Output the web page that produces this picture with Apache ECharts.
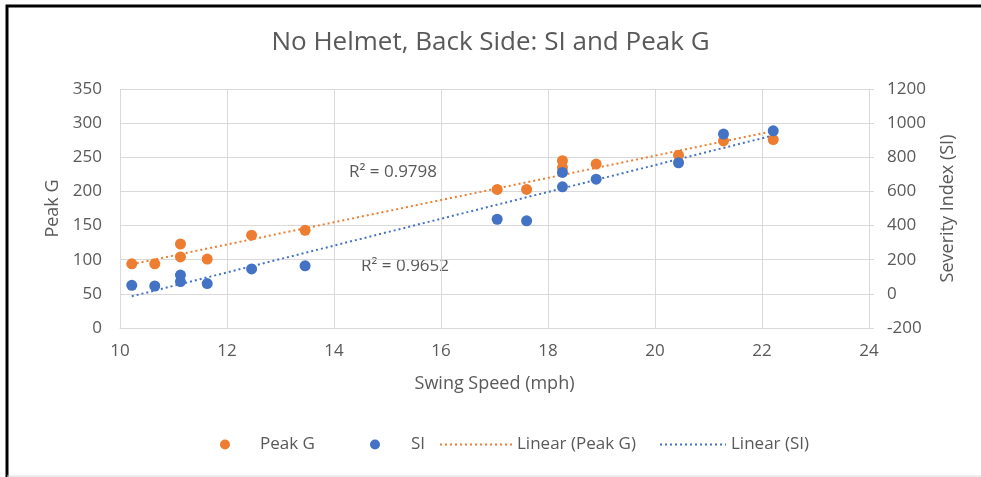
<!DOCTYPE html>
<html>
<head>
<meta charset="utf-8">
<script src="https://cdn.jsdelivr.net/npm/echarts@6/dist/echarts.min.js"></script>
<style>
html,body{margin:0;padding:0;background:#fff;}
#chart{width:981px;height:477px;}
</style>
</head>
<body>
<div id="chart"></div>
<script>
// ---- data ----
var swingSpeed = [10.22, 10.65, 11.13, 11.13, 11.63, 12.46, 13.46, 17.05, 17.6, 18.27, 18.27, 18.9, 20.44, 21.28, 22.21];
var peakG      = [94, 94, 123, 104, 101, 136, 143, 203, 203, 245, 235, 240, 253, 274, 276];
var severityIndex = [50, 46, 110, 72, 60, 146, 164, 437, 428, 711, 627, 672, 768, 936, 955];
var xTicks = [10, 12, 14, 16, 18, 20, 22, 24];
var leftTicks = [0, 50, 100, 150, 200, 250, 300, 350];
var rightTicks = [-200, 0, 200, 400, 600, 800, 1000, 1200];
var rSquaredLabels = ['R\u00b2 = 0.9798', 'R\u00b2 = 0.9652'];

var ORANGE = '#ED7D31', BLUE = '#4472C4', TXT = '#595959', GRID = '#D9D9D9';
var FONT = '"Open Sans", "DejaVu Sans", sans-serif';

function pairs(xs, ys){ return xs.map(function(x,i){ return [x, ys[i]]; }); }
function linFit(xs, ys){
  var n = xs.length, mx = 0, my = 0;
  for (var i=0;i<n;i++){ mx += xs[i]; my += ys[i]; }
  mx/=n; my/=n;
  var sxy=0, sxx=0;
  for (var j=0;j<n;j++){ sxy += (xs[j]-mx)*(ys[j]-my); sxx += (xs[j]-mx)*(xs[j]-mx); }
  var b = sxy/sxx, a = my - b*mx;
  var x0 = Math.min.apply(null, xs), x1 = Math.max.apply(null, xs);
  return [[x0, a+b*x0], [x1, a+b*x1]];
}

var chart = echarts.init(document.getElementById('chart'));
var axisLabelStyle = {color: TXT, fontSize: 17, fontFamily: FONT};
var nameStyle = {color: TXT, fontSize: 18, fontFamily: FONT};

function legendAt(left, name, w, hideSymbol){
  var l = {
    left: left, top: 431, itemWidth: w, itemHeight: 10, itemGap: 0,
    data: [name], textStyle: {color: TXT, fontSize: 17, fontFamily: FONT},
    selectedMode: false
  };
  if (hideSymbol) l.itemStyle = {opacity: 0};
  return l;
}

chart.setOption({
  animation: false,
  backgroundColor: '#fff',
  title: {
    text: 'No Helmet, Back Side: SI and Peak G',
    left: 'center', top: 25,
    textStyle: {color: TXT, fontSize: 26, fontWeight: 'normal', fontFamily: FONT}
  },
  grid: {left: 120, top: 89, width: 749, height: 239, containLabel: false},
  legend: [
    legendAt(215, 'Peak G', 60),
    legendAt(365, 'SI', 62),
    legendAt(434, 'Linear (Peak G)', 72, true),
    legendAt(654, 'Linear (SI)', 66, true)
  ],
  xAxis: {
    type: 'value', min: xTicks[0], max: xTicks[xTicks.length-1], interval: 2,
    name: 'Swing Speed (mph)', nameLocation: 'middle', nameGap: 47,
    nameTextStyle: nameStyle,
    axisLine: {show: true, lineStyle: {color: GRID, width: 1}},
    axisTick: {show: false},
    axisLabel: Object.assign({margin: 15}, axisLabelStyle),
    splitLine: {show: true, lineStyle: {color: GRID, width: 1}}
  },
  yAxis: [
    {
      type: 'value', min: leftTicks[0], max: leftTicks[leftTicks.length-1], interval: 50,
      name: 'Peak G', nameLocation: 'middle', nameGap: 57,
      nameTextStyle: nameStyle,
      axisLine: {show: false}, axisTick: {show: false},
      axisLabel: Object.assign({margin: 18}, axisLabelStyle),
      splitLine: {show: true, lineStyle: {color: GRID, width: 1}}
    },
    {
      type: 'value', min: rightTicks[0], max: rightTicks[rightTicks.length-1], interval: 200,
      position: 'right',
      name: 'Severity Index (SI)', nameLocation: 'middle', nameGap: 70, nameRotate: 90,
      nameTextStyle: nameStyle,
      axisLine: {show: true, lineStyle: {color: GRID, width: 1}},
      axisTick: {show: true, length: 5, lineStyle: {color: GRID}},
      axisLabel: Object.assign({margin: 18, formatter: function(v){ return String(v); }}, axisLabelStyle),
      splitLine: {show: false}
    }
  ],
  series: [
    {
      name: 'Linear (Peak G)', type: 'line', yAxisIndex: 0, data: linFit(swingSpeed, peakG),
      symbol: 'none', lineStyle: {color: ORANGE, width: 2, type: [2, 3]}, itemStyle: {color: ORANGE}, z: 1
    },
    {
      name: 'Linear (SI)', type: 'line', yAxisIndex: 1, data: linFit(swingSpeed, severityIndex),
      symbol: 'none', lineStyle: {color: BLUE, width: 2, type: [2, 3]}, itemStyle: {color: BLUE}, z: 1
    },
    {
      name: 'Peak G', type: 'scatter', yAxisIndex: 0, data: pairs(swingSpeed, peakG),
      symbol: 'circle', symbolSize: 11, itemStyle: {color: ORANGE, opacity: 1}, z: 3
    },
    {
      name: 'SI', type: 'scatter', yAxisIndex: 1, data: pairs(swingSpeed, severityIndex),
      symbol: 'circle', symbolSize: 11, itemStyle: {color: BLUE, opacity: 1}, z: 4
    }
  ],
  graphic: [
    {type: 'text', left: 349, top: 164, style: {text: rSquaredLabels[0], fill: TXT, font: '17px ' + FONT}},
    {type: 'text', left: 361, top: 258, style: {text: rSquaredLabels[1], fill: TXT, font: '17px ' + FONT}},
    {type: 'polyline', shape: {points: [[7, 477], [7, 6], [981, 6]]}, style: {stroke: '#000', lineWidth: 3, fill: null}},
    {type: 'line', shape: {x1: 7, y1: 476, x2: 981, y2: 476}, style: {stroke: '#D9D9D9', lineWidth: 1}}
  ]
});
</script>
</body>
</html>
